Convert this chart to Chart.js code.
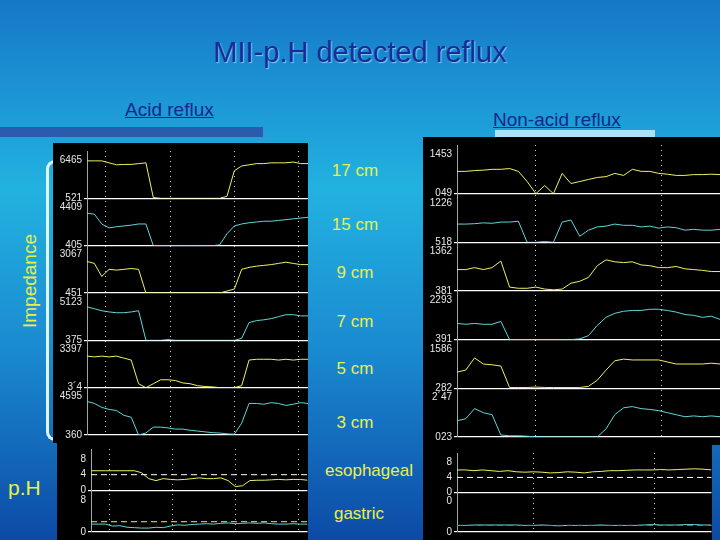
<!DOCTYPE html>
<html><head><meta charset="utf-8">
<script src="https://cdn.jsdelivr.net/npm/chart.js@4"></script>
<style>
body{margin:0;width:720px;height:540px;overflow:hidden;font-family:"Liberation Sans",Arial,sans-serif;
 background:linear-gradient(to bottom,#1678c8 0%,#22b2e0 35%,#1a8ad0 65%,#0c4aa6 100%);position:relative}
.t{position:absolute;white-space:nowrap}
.lab{position:absolute;color:#e8f04c;font-size:17px;text-align:center;width:110px}
.box{position:absolute;background:#000}
.box canvas{display:block}
</style></head><body>
<div class="t" style="left:0;width:720px;top:36px;text-align:center;font-size:29px;color:#1a2a96;text-shadow:1px 1px 1px #7fd0f0">MII-p.H detected reflux</div>
<div class="t" style="left:0;top:127px;width:263px;height:10px;background:#2a5cae"></div>
<div class="t" style="left:125px;top:99px;font-size:19px;color:#16288a;text-decoration:underline">Acid reflux</div>
<div class="t" style="left:495px;top:130px;width:160px;height:7px;background:#a8e4f4"></div>
<div class="t" style="left:493px;top:109px;font-size:19px;color:#16288a;text-decoration:underline">Non-acid reflux</div>
<div class="t" style="left:-40px;top:270px;width:140px;text-align:center;font-size:19px;color:#e8f04c;transform:rotate(-90deg)">Impedance</div>
<div class="t" style="left:46px;top:160px;width:6px;height:275px;border:3px solid #e0f4ff;border-right:none;border-radius:14px 0 0 14px"></div>
<div class="t" style="left:8px;top:476px;font-size:21px;color:#e8f04c">p.H</div>
<div class="lab" style="left:300px;top:161px">17 cm</div>
<div class="lab" style="left:300px;top:215px">15 cm</div>
<div class="lab" style="left:300px;top:263px">9 cm</div>
<div class="lab" style="left:300px;top:312px">7 cm</div>
<div class="lab" style="left:300px;top:359px">5 cm</div>
<div class="lab" style="left:300px;top:413px">3 cm</div>
<div class="lab" style="left:314px;top:461px">esophageal</div>
<div class="lab" style="left:304px;top:504px">gastric</div>

<div class="box" style="left:53px;top:143px;width:255px;height:300px"><canvas id="impL"></canvas></div>
<div class="box" style="left:57px;top:441px;width:251px;height:99px"><canvas id="phL"></canvas></div>
<div class="box" style="left:423px;top:137px;width:297px;height:308px"><canvas id="impR"></canvas></div>
<div class="box" style="left:423px;top:445px;width:289px;height:95px"><canvas id="phR"></canvas></div>

<script>
const YEL = '#eef060', CYA = '#5fd6d8';

// acid reflux impedance channels (normalised, 17 cm .. 3 cm)
const acid17 = [0.95,0.95,0.95,0.9,0.85,0.86,0.86,0.88,0.9,0.02,0,0,0,0,0,0,0,0,0,0.05,0.7,0.82,0.85,0.88,0.88,0.9,0.9,0.9,0.92,0.88,0.88];
const acid15 = [0.82,0.8,0.55,0.45,0.48,0.5,0.52,0.55,0.55,0,0,0,0,0,0,0,0,0,0.02,0.3,0.5,0.55,0.58,0.6,0.62,0.62,0.64,0.66,0.68,0.7,0.72];
const acid9  = [0.8,0.75,0.42,0.6,0.58,0.6,0.62,0.6,0,0,0,0,0,0,0,0,0,0,0,0.05,0.1,0.6,0.65,0.68,0.7,0.72,0.75,0.78,0.75,0.72,0.72];
const acid7  = [0.85,0.8,0.75,0.72,0.7,0.7,0.72,0.75,0,0,0,0.02,0,0,0,0,0,0,0,0,0,0.05,0.45,0.5,0.52,0.55,0.6,0.65,0.65,0.62,0.62];
const acid5  = [0.8,0.78,0.8,0.78,0.8,0.75,0.7,0.1,0,0.1,0.2,0.2,0.18,0.12,0.1,0.05,0.03,0.02,0,0,0,0.05,0.7,0.72,0.72,0.72,0.7,0.72,0.7,0.72,0.72];
const acid3  = [0.85,0.8,0.7,0.65,0.62,0.5,0.45,0,0.05,0.2,0.2,0.18,0.15,0.15,0.12,0.1,0.08,0.06,0.05,0.03,0.02,0.3,0.8,0.8,0.78,0.82,0.8,0.75,0.78,0.82,0.8];
const acidEso = [5,5,5,5,5,5,5,4.5,3,2.5,3,2.8,2.7,2.8,3,3.2,3,3,3.2,2.5,1,1.2,2.5,2.6,2.6,2.7,2.8,2.7,2.8,2.8,2.6];
const acidGas = [2,2,2,1.5,1.6,1.2,1.1,1,1,1.2,1.1,1.5,1.8,1.7,1.9,2,2.1,2,2.2,2.3,2.1,2.2,2.3,2.2,2.3,2.1,2,2,2.1,2,2];

// non-acid reflux channels
const non17 = [0.55,0.55,0.57,0.58,0.6,0.6,0.62,0.55,0.3,0,0.2,0,0.5,0.25,0.3,0.35,0.4,0.42,0.5,0.45,0.6,0.55,0.55,0.5,0.48,0.45,0.45,0.47,0.47,0.48,0.47];
const non15 = [0.45,0.45,0.46,0.48,0.47,0.5,0.5,0.52,0,0,0.02,0,0.5,0.55,0.15,0.3,0.38,0.4,0.45,0.42,0.42,0.38,0.4,0.35,0.38,0.36,0.3,0.32,0.3,0.3,0.32];
const non9  = [0.5,0.5,0.55,0.5,0.55,0.72,0.05,0.02,0.02,0.05,0,-0.02,0,0.15,0.2,0.3,0.6,0.75,0.7,0.68,0.7,0.62,0.6,0.55,0.55,0.58,0.52,0.5,0.48,0.45,0.45];
const non7  = [0.4,0.38,0.4,0.38,0.38,0.45,0,0,0,0,0,0,0,0,0.02,0.1,0.35,0.55,0.65,0.7,0.72,0.72,0.75,0.75,0.72,0.68,0.62,0.6,0.55,0.58,0.5];
const non5  = [0.4,0.45,0.75,0.6,0.58,0.55,0.02,0.02,0.02,0.03,0.02,0.02,0.02,0.02,0.02,0.05,0.2,0.45,0.68,0.72,0.7,0.7,0.7,0.7,0.65,0.6,0.6,0.6,0.6,0.62,0.6];
const non3  = [0.4,0.45,0.7,0.6,0.55,0.05,0.03,0.03,0.02,0,0,0,0,0,0,0,0,0.2,0.55,0.72,0.75,0.7,0.68,0.65,0.6,0.55,0.5,0.52,0.5,0.52,0.5];
const nonEso = [6,6,5.8,6,5.8,5.6,5.8,5.5,5.4,5.5,5.4,5.2,5.3,5.5,5.4,5.2,5.5,5.6,5.8,5.8,5.9,6,6,6,6.1,6,6.1,6.2,6.3,6.2,6];
const nonGas = [1.5,1.5,1.6,1.6,1.6,1.6,1.6,1.6,1.5,1.5,1.6,1.5,1.4,1.5,1.5,1.5,1.5,1.6,1.5,1.5,1.5,1.5,1.6,1.7,1.6,1.6,1.6,1.7,1.7,1.6,1.6];

const tickL = [['6465','521'],['4409','405'],['3067','451'],['5123','375'],['3397','3´4'],['4595','360']];
const tickR = [['1453','049'],['1226','518'],['1362','381'],['2293','391'],['1586','282'],['2´47','023']];
const phTickL = [['8','4','0'],['8','0']];
const phTickR = [['8','4','0'],['0','0']];
const gridL = [2.5,11.3,20,28.7];
const gridR = [9,23.3];

function pts(a){ return a.map((v,i)=>({x:i,y:v})); }

// r = [min, max, top tick, middle tick]
function bandAxis(labels, r){
  const [min,max,top,mid] = r;
  return {
    stack:'s', stackWeight:1, offset:false, min, max, position:'left',
    afterBuildTicks: s => { s.ticks = (mid!=null ? [min,mid,top] : [min,top]).map(v=>({value:v})); },
    afterFit: s => { s.width = 32; },
    ticks:{color:'#e8e8e8', font:{size:10}, padding:2, autoSkip:false,
      callback:(v,i,t)=> labels[t.length-1-i]},
    grid:{drawOnChartArea:true, tickLength:3,
      color: c => c.index===0 ? '#ffffff' : 'rgba(0,0,0,0)', lineWidth:1.2},
    border:{display:true, color:'#9aa'}
  };
}

function makeChart(id, series, colors, ticks, ranges, grid){
  const scales = {
    x:{type:'linear', min:0, max:30, display:true,
      afterBuildTicks: s => { s.ticks = grid.map(v=>({value:v})); },
      afterFit: s => { s.height = 0; },
      ticks:{display:false}, border:{display:false, dash:[1,4]},
      grid:{color:'#ccc', lineWidth:1, tickLength:0}}
  };
  const datasets = [];
  // last band first, so the first band sits on top of the stack
  for (let k = series.length-1; k >= 0; k--) {
    scales['b'+k] = bandAxis(ticks[k], ranges[k]);
  }
  series.forEach((s,k)=>{
    datasets.push({data:pts(s), yAxisID:'b'+k, borderColor:colors[k], borderWidth:1,
      pointRadius:0, tension:0});
  });
  return new Chart(document.getElementById(id), {
    type:'line', data:{datasets},
    options:{responsive:true, maintainAspectRatio:false, animation:false,
      layout:{padding:{top:0,right:0,bottom:0,left:2}},
      plugins:{legend:{display:false}, tooltip:{enabled:false}},
      scales}
  });
}

// dashed reference lines on pH charts
const refLines = {
  id:'ref',
  afterDatasetsDraw(c, a, o){
    if(!o.lines) return;
    const ctx = c.ctx, ca = c.chartArea;
    o.lines.forEach(l=>{
      const y = c.scales[l.axis].getPixelForValue(l.v);
      ctx.save(); ctx.strokeStyle = l.color; ctx.setLineDash([6,4]); ctx.lineWidth = 1;
      ctx.beginPath(); ctx.moveTo(ca.left, y); ctx.lineTo(ca.right, y); ctx.stroke(); ctx.restore();
    });
  }
};
Chart.register(refLines);

const r01 = [0,1.2,0.97];
makeChart('impL',[acid17,acid15,acid9,acid7,acid5,acid3],[YEL,CYA,YEL,CYA,YEL,CYA],tickL,[r01,r01,r01,r01,r01,r01],gridL);
makeChart('impR',[non17,non15,non9,non7,non5,non3],[YEL,CYA,YEL,CYA,YEL,CYA],tickR,[r01,r01,[-0.05,1.2,0.97],r01,r01,r01],gridR);
const cL = makeChart('phL',[acidEso,acidGas],[YEL,CYA],phTickL,[[0,10.5,8,4],[0,10.5,8]],gridL);
cL.options.plugins.ref = {lines:[{axis:'b0',v:4,color:'#fff'},{axis:'b1',v:2.6,color:'#eef060'}]}; cL.update();
const cR = makeChart('phR',[nonEso,nonGas],[YEL,CYA],phTickR,[[0,10.5,8,4],[0,9,7]],gridR);
cR.options.plugins.ref = {lines:[{axis:'b0',v:4,color:'#fff'},{axis:'b1',v:1.5,color:'#777'}]}; cR.update();
</script>
</body></html>
